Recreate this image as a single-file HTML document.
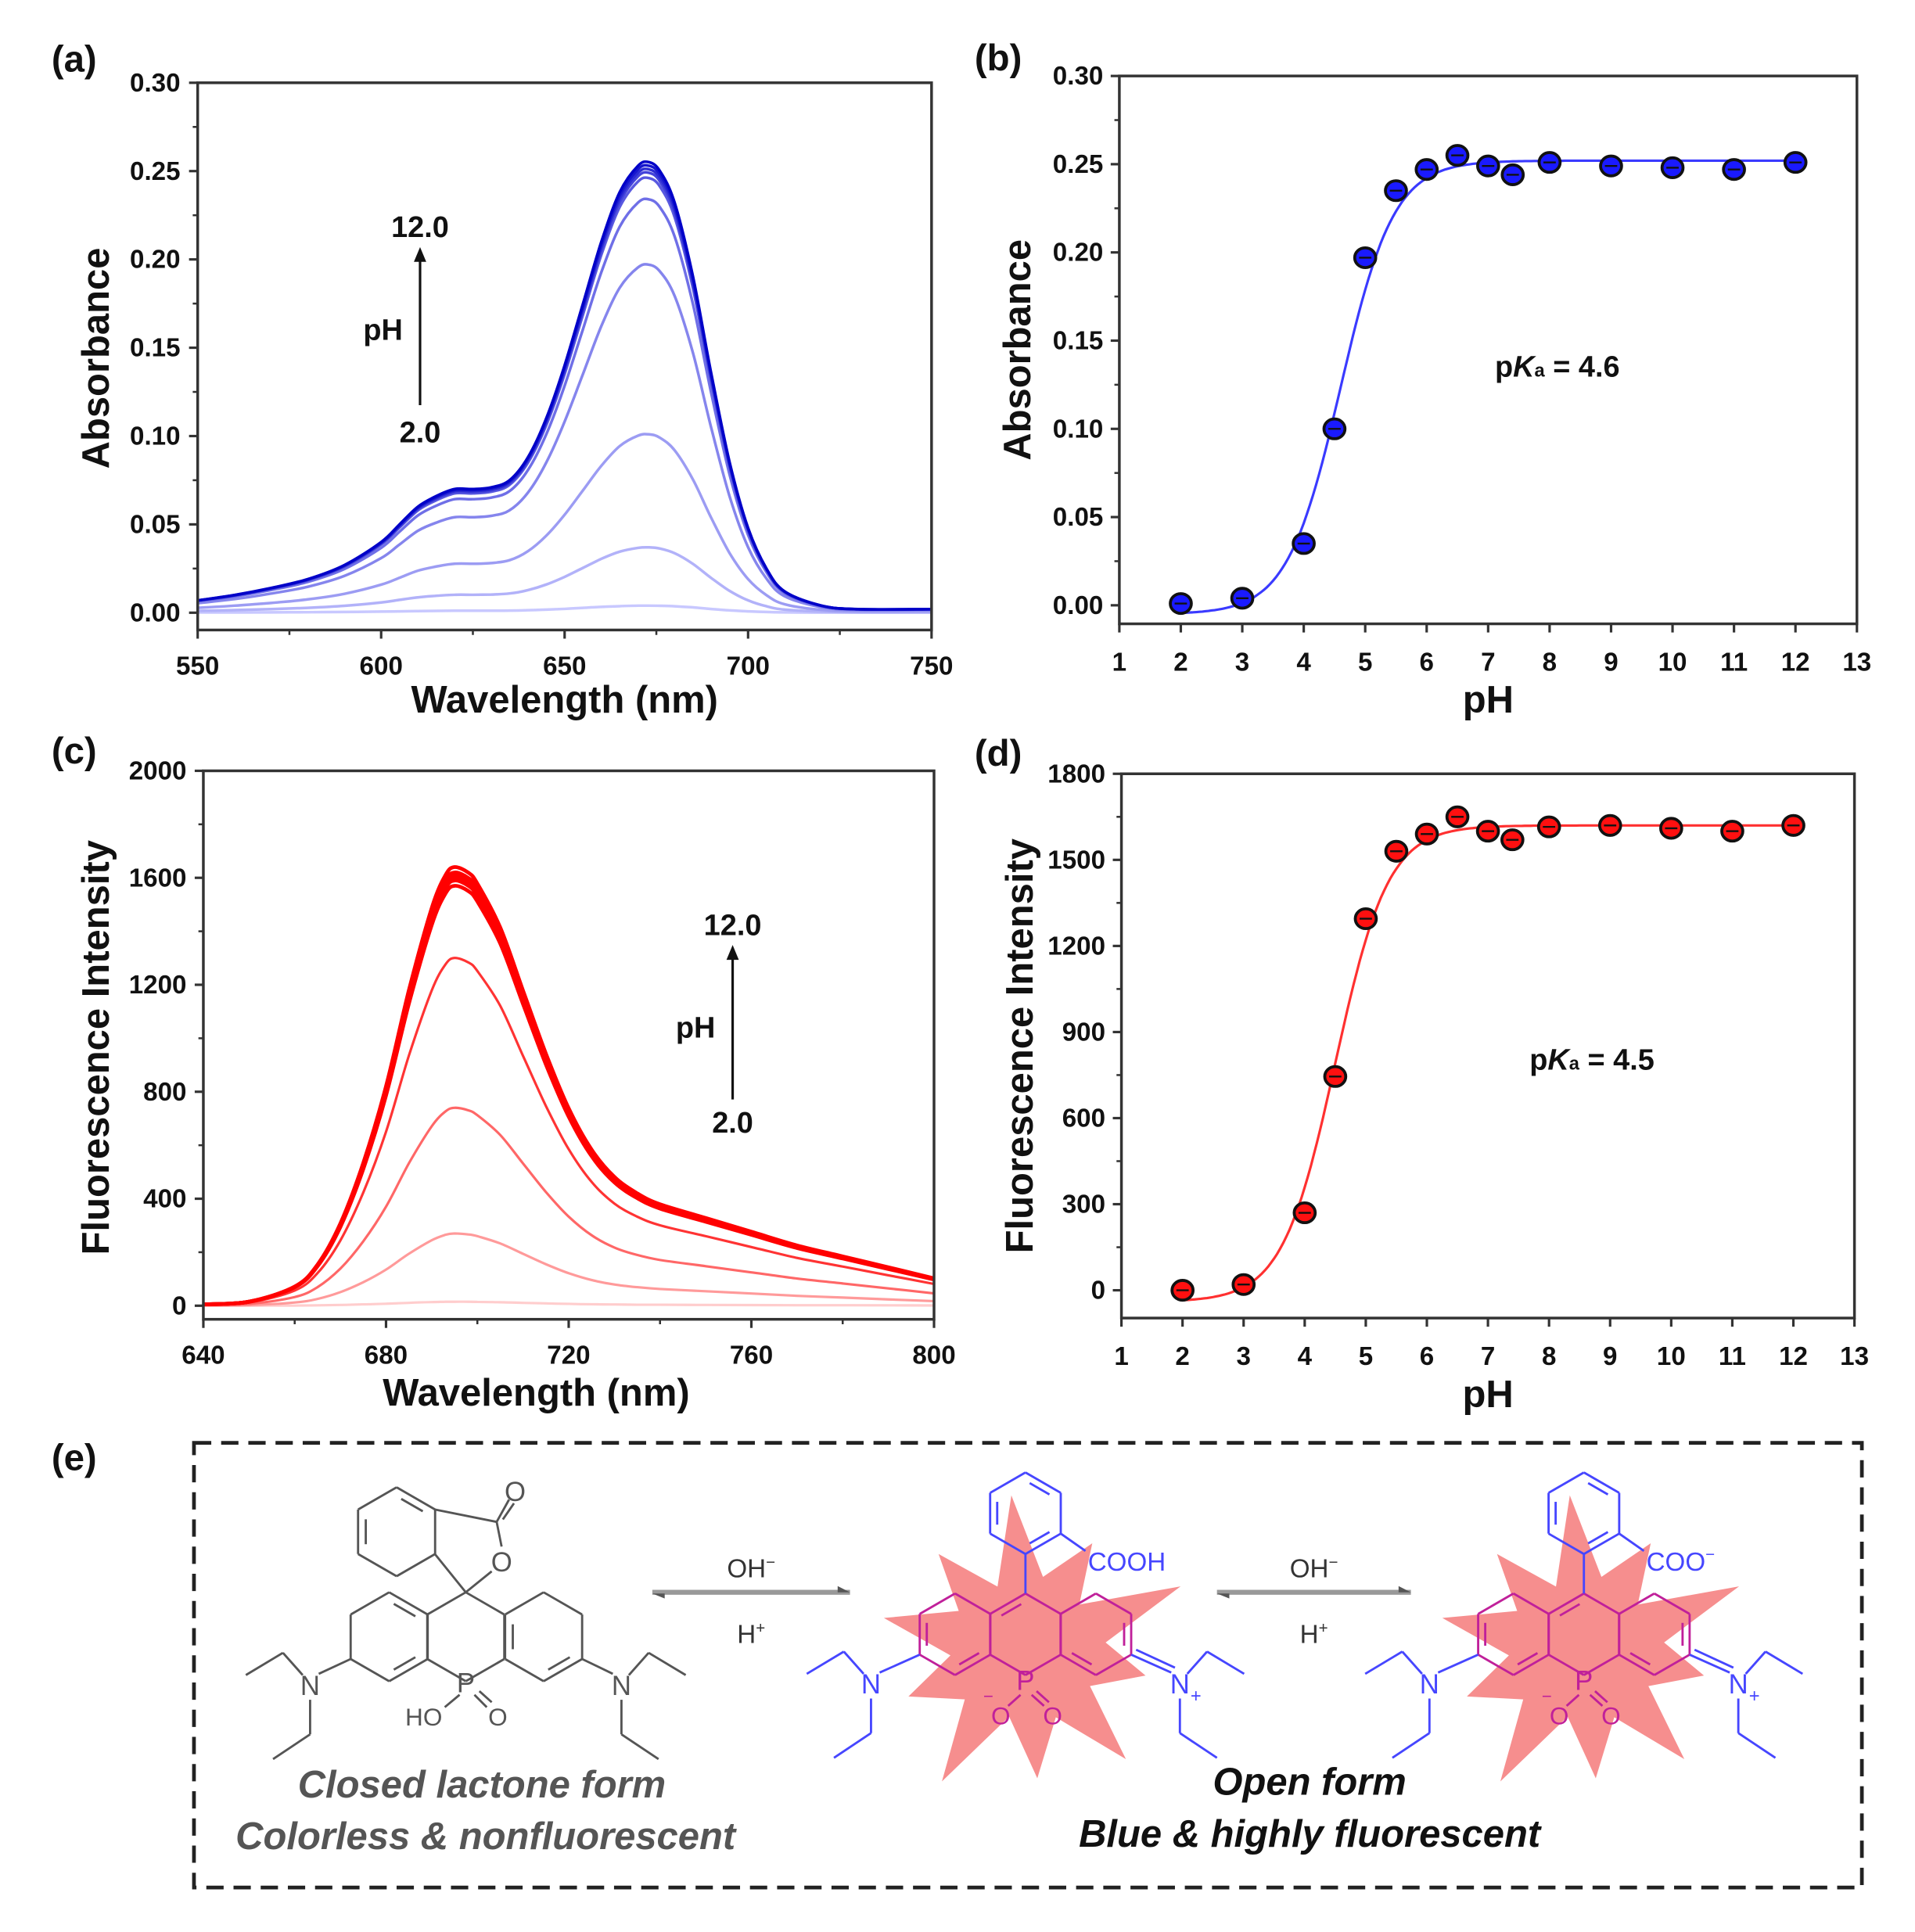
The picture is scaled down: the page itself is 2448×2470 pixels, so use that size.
<!DOCTYPE html>
<html><head><meta charset="utf-8">
<style>
html,body{margin:0;padding:0;background:#fff;}
svg{display:block;}
text{font-family:"Liberation Sans",Arial,sans-serif;}
</style></head>
<body>
<svg id="fig" xmlns="http://www.w3.org/2000/svg" width="2448" height="2470" viewBox="0 0 1550 1564" preserveAspectRatio="none">
<rect x="0" y="0" width="1550" height="1564" fill="#fff"/>
</svg>
<script>
// ---------- Panel (a) data ----------
const absWavelengths = [550,560,570,580,590,600,605,610,615,620,625,630,635,640,645,650,655,660,665,670,673,676,680,685,690,695,700,705,710,720,730,750];
const absShape = [0.007,0.010,0.014,0.019,0.027,0.040,0.050,0.060,0.066,0.070,0.070,0.071,0.075,0.088,0.110,0.140,0.175,0.210,0.238,0.253,0.255,0.250,0.232,0.190,0.135,0.085,0.048,0.025,0.012,0.004,0.002,0.002];
const absPeaks = [0.004,0.037,0.101,0.197,0.234,0.246,0.249,0.251,0.253,0.255];
const absYTicks = [0.00,0.05,0.10,0.15,0.20,0.25,0.30];
const absXTicks = [550,600,650,700,750];
// ---------- Panel (b) data ----------
const bPH = [2,3,4,4.5,5,5.5,6,6.5,7,7.4,8,9,10,11,12];
const bAbs = [0.001,0.004,0.035,0.100,0.197,0.235,0.247,0.255,0.249,0.244,0.251,0.249,0.248,0.247,0.251];
const bFit = [4.6,0.252,-0.005]; // pKa, top, bottom
const phTicks = [1,2,3,4,5,6,7,8,9,10,11,12,13];
// ---------- Panel (c) data ----------
const flWavelengths = [640,650,660,665,670,675,680,685,690,693,695,698,700,705,710,715,720,725,730,735,740,750,760,770,780,790,800];
const flShape = [5,15,70,150,300,520,800,1150,1450,1570,1600,1580,1540,1380,1150,920,720,570,470,410,370,320,270,220,180,140,100];
const flPeaks = [15,270,740,1300,1570,1590,1600,1610,1620,1640];
const flYTicks = [0,400,800,1200,1600,2000];
const flXTicks = [640,680,720,760,800];
// ---------- Panel (d) data ----------
const dPH = [2,3,4,4.5,5,5.5,6,6.5,7,7.4,8,9,10,11,12];
const dFl = [0,20,270,745,1295,1530,1590,1650,1600,1570,1615,1620,1610,1600,1620];
const dFit = [4.5,1620,-40];
const dYTicks = [0,300,600,900,1200,1500,1800];

const NS = "http://www.w3.org/2000/svg";
const svg = document.getElementById('fig');
function mk(tag, attrs, parent){const e=document.createElementNS(NS,tag);for(const k in attrs)e.setAttribute(k,attrs[k]);(parent||svg).appendChild(e);return e;}
function lin(d0,d1,r0,r1){return v=>r0+(v-d0)/(d1-d0)*(r1-r0);}
function txt(s,x,y,size,anchor,parent,extra){const t=mk('text',Object.assign({x:x,y:y,'font-size':size,'font-weight':'bold','text-anchor':anchor||'middle',fill:'#111'},extra||{}),parent);t.textContent=s;return t;}
function smooth(pts){
  let d='M'+pts[0][0].toFixed(1)+','+pts[0][1].toFixed(1);
  for(let i=0;i<pts.length-1;i++){
    const p0=pts[i-1]||pts[i],p1=pts[i],p2=pts[i+1],p3=pts[i+2]||p2;
    const c1=[p1[0]+(p2[0]-p0[0])/6,p1[1]+(p2[1]-p0[1])/6],c2=[p2[0]-(p3[0]-p1[0])/6,p2[1]-(p3[1]-p1[1])/6];
    d+='C'+c1[0].toFixed(1)+','+c1[1].toFixed(1)+' '+c2[0].toFixed(1)+','+c2[1].toFixed(1)+' '+p2[0].toFixed(1)+','+p2[1].toFixed(1);
  }
  return d;
}

function frame(g,x0,x1,y0,y1){
  const r=mk('rect',{x:x0,y:y0,width:x1-x0,height:y1-y0,fill:'none',stroke:'#333','stroke-width':2.2},g);
  
  
}
function xAxis(g,xs,ticks,minorStep,yb,labelY,fmt){
  const ax=mk('g',{},g);
  
  
  ticks.forEach((v,i)=>{
    mk('line',{x1:xs(v),x2:xs(v),y1:yb,y2:yb+7,stroke:'#333','stroke-width':2},ax);
    const t=txt(fmt?fmt(v):String(v),xs(v),labelY,21,'middle',ax);
    
    
    if(minorStep&&i<ticks.length-1){const m=v+minorStep;mk('line',{x1:xs(m),x2:xs(m),y1:yb,y2:yb+4,stroke:'#333','stroke-width':1.6},ax);}
  });
}
function yAxis(g,ys,ticks,minorStep,xl,labelX,fmt){
  const ax=mk('g',{},g);
  
  
  ticks.forEach((v,i)=>{
    mk('line',{x1:xl,x2:xl-7,y1:ys(v),y2:ys(v),stroke:'#333','stroke-width':2},ax);
    const t=txt(fmt?fmt(v):String(v),labelX,ys(v)+7,21,'end',ax);
    
    
    if(minorStep&&i<ticks.length-1){const m=v+minorStep;mk('line',{x1:xl,x2:xl-4,y1:ys(m),y2:ys(m),stroke:'#333','stroke-width':1.6},ax);}
  });
}
function mix(c0,c1,t){return 'rgb('+c0.map((v,i)=>Math.round(v+(c1[i]-v)*t)).join(',')+')';}

// ===== Panel a =====
(function(){
  const g=mk('g',{});  
  const x=lin(550,750,160,754), y=lin(0,0.30,496,67);
  const lines=mk('g',{},g);
  
  
  absPeaks.forEach((pk,k)=>{
    const s=pk/0.255;
    const d=smooth(absWavelengths.map((w,i)=>[x(w),y(absShape[i]*s)]));
    const p=mk('path',{d:d,fill:'none',stroke:mix([200,200,255],[0,0,200],k/(absPeaks.length-1)),'stroke-width':2.2,'stroke-linejoin':'round'},lines);
    
    
  });
  frame(g,160,754,67,510);
  xAxis(g,x,absXTicks,25,510,546);
  yAxis(g,y,absYTicks,0.025,160,146,v=>v.toFixed(2));
  const xt=txt('Wavelength (nm)',457,577,31,'middle',g);  
  const yt=txt('Absorbance',0,0,31,'middle',g,{transform:'translate(88,290) rotate(-90)'});  
  const pl=txt('(a)',60,58,30,'middle',g);  
  const an=mk('g',{},g);  
  txt('12.0',340,192,24,'middle',an); txt('pH',310,275,24,'middle',an); txt('2.0',340,358,24,'middle',an);
  mk('line',{x1:340,y1:328,x2:340,y2:210,stroke:'#111','stroke-width':2},an);
  mk('path',{d:'M335,212 L340,200 L345,212 Z',fill:'#111'},an);
})();

// ===== Panel b / d =====
function fitPanel(id,label,xs,ys,phs,vals,fit,yTicks,yMinor,fmt,box,fill,lineCol,ytitle,pkText,pkPos,labelPos){
  const g=mk('g',{});  
  frame(g,box[0],box[1],box[2],box[3]);
  xAxis(g,xs,phTicks,0,box[3],box[3]+38);
  yAxis(g,ys,yTicks,yMinor,box[0],box[0]-13,fmt);
  let d='';
  for(let i=0;i<=200;i++){const p=2+10*i/200;const v=fit[2]+(fit[1]-fit[2])/(1+Math.pow(10,fit[0]-p));d+=(i?'L':'M')+xs(p).toFixed(1)+','+ys(v).toFixed(1);}
  const fl=mk('path',{d:d,fill:'none',stroke:lineCol,'stroke-width':2},g);
  
  
  phs.forEach((p,i)=>{
    const c=mk('ellipse',{cx:xs(p),cy:ys(vals[i]),rx:8.5,ry:8,fill:fill,stroke:'#111','stroke-width':2.4},g);
    
    
    mk('line',{x1:xs(p)-5,x2:xs(p)+5,y1:ys(vals[i]),y2:ys(vals[i]),stroke:'#111','stroke-width':1.5},g);
  });
  const xt=txt('pH',(box[0]+box[1])/2,box[3]+72,31,'middle',g);  
  const yt=txt(ytitle,0,0,31,'middle',g,{transform:'translate('+(box[0]-72)+','+((box[2]+box[3])/2)+') rotate(-90)'});  
  const pk=mk('text',{x:pkPos[0],y:pkPos[1],'font-size':24,'font-weight':'bold',fill:'#111'},g);
  pk.innerHTML='p<tspan font-style="italic">K</tspan><tspan font-size="15">a</tspan> = '+pkText;
  
  
  const pl=txt(label,labelPos[0],labelPos[1],30,'middle',g);  
}
fitPanel('panel-b-absorbance-vs-ph','(b)',lin(1,13,906,1503),lin(0,0.30,490,61.5),bPH,bAbs,bFit,absYTicks,0.025,v=>v.toFixed(2),[906,1503,61.5,505],'#1a1aff','#3a3aff','Absorbance','4.6',[1210,305],[808,57]);

// ===== Panel c =====
(function(){
  const g=mk('g',{});  
  const x=lin(640,800,164.6,756), y=lin(0,2000,1057,624);
  const lines=mk('g',{},g);
  
  
  flPeaks.forEach((pk,k)=>{
    const s=pk/1600;
    const d=smooth(flWavelengths.map((w,i)=>[x(w),y(flShape[i]*s)]));
    const p=mk('path',{d:d,fill:'none',stroke:mix([255,205,205],[255,0,0],Math.min(1,k/4)),'stroke-width':k>3?3:2,'stroke-linejoin':'round'},lines);
    
    
  });
  frame(g,164.6,756,624,1068);
  xAxis(g,x,flXTicks,20,1068,1104);
  yAxis(g,y,flYTicks,200,164.6,151);
  const xt=txt('Wavelength (nm)',434,1138,31,'middle',g);  
  const yt=txt('Fluorescence Intensity',0,0,31,'middle',g,{transform:'translate(88,848) rotate(-90)'});  
  const pl=txt('(c)',60,618,30,'middle',g);  
  const an=mk('g',{},g);  
  txt('12.0',593,757,24,'middle',an); txt('pH',563,840,24,'middle',an); txt('2.0',593,917,24,'middle',an);
  mk('line',{x1:593,y1:890,x2:593,y2:775,stroke:'#111','stroke-width':2},an);
  mk('path',{d:'M588,777 L593,765 L598,777 Z',fill:'#111'},an);
})();

// ===== Panel d =====
fitPanel('panel-d-fluorescence-vs-ph','(d)',lin(1,13,907.7,1501),lin(0,1800,1044.5,626.4),dPH,dFl,dFit,dYTicks,150,null,[907.7,1501,626.4,1067],'#ff1010','#ff3030','Fluorescence Intensity','4.5',[1238,866],[808,620]);

// ===== Panel e : scheme =====
(function(){
  const g=mk('g',{});  
  const pl=txt('(e)',60,1190,30,'middle',g);  
  const box=mk('rect',{x:157,y:1168,width:1350,height:360,fill:'none',stroke:'#222','stroke-width':3,'stroke-dasharray':'14,8'},g);
   

  function L(p,a,b,col,w){mk('line',{x1:a[0],y1:a[1],x2:b[0],y2:b[1],stroke:col,'stroke-width':w||1.8},p);}
  function hexPts(cx,cy,r){const v=[];for(let k=0;k<6;k++){const a=(-90+60*k)*Math.PI/180;v.push([cx+r*Math.cos(a),cy+r*Math.sin(a)]);}return v;}
  function ring(p,cx,cy,r,col,dbl){const v=hexPts(cx,cy,r);for(let k=0;k<6;k++)L(p,v[k],v[(k+1)%6],col);
    (dbl||[]).forEach(k=>{const a=v[k],b=v[(k+1)%6];const s=0.2;const ia=[a[0]+(cx-a[0])*s,a[1]+(cy-a[1])*s],ib=[b[0]+(cx-b[0])*s,b[1]+(cy-b[1])*s];
      L(p,[ia[0]+(ib[0]-ia[0])*0.15,ia[1]+(ib[1]-ia[1])*0.15],[ia[0]+(ib[0]-ia[0])*0.85,ia[1]+(ib[1]-ia[1])*0.85],col);});return v;}
  function atom(p,s,x,y,col,size){const t=mk('text',{x:x,y:y,'font-size':size||20,'text-anchor':'middle',fill:col},p);t.textContent=s;return t;}
  function diethylN(p,N,col,side){ // side -1 left, +1 right
    atom(p,'N',N[0],N[1]+8,col,22);
    L(p,[N[0]+side*6,N[1]-8],[N[0]+side*22,N[1]-26],col);L(p,[N[0]+side*22,N[1]-26],[N[0]+side*52,N[1]-8],col);
    L(p,[N[0],N[1]+12],[N[0],N[1]+40],col);L(p,[N[0],N[1]+40],[N[0]+side*30,N[1]+60],col);
  }
  function star(p,cx,cy){
    const radii=[125,60,100,55,130,62,95,58,118,60,105,56,125,62,98,58,112,60,102,55];
    const pts=radii.map((r,i)=>{const a=(-95+i*18)*Math.PI/180;return (cx+r*1.05*Math.cos(a)).toFixed(1)+','+(cy+r*Math.sin(a)).toFixed(1);}).join(' ');
    const s=mk('polygon',{points:pts,fill:'#f47a7a','fill-opacity':0.85},p);
     
  }

  // closed lactone form
  const m1=mk('g',{},g);  
  const gray='#555', r=36, cy=1325;
  const lv=ring(m1,315,cy,r,gray,[0,2]); ring(m1,377,cy,r,gray,[]); const rv=ring(m1,440,cy,r,gray,[4,2]);
  diethylN(m1,[251,1364],gray,-1); L(m1,lv[4],[258,1355],gray);
  diethylN(m1,[503,1364],gray,1); L(m1,rv[2],[496,1355],gray);
  atom(m1,'P',377,1370,gray,22); atom(m1,'HO',343,1397,gray,20); atom(m1,'O',403,1397,gray,20);
  L(m1,[372,1372],[360,1382],gray); L(m1,[384,1372],[394,1382],gray); L(m1,[388,1369],[398,1378],gray);
  ring(m1,321,1240,36,gray,[4,0]);
  L(m1,[377,1289],[352,1258],gray); L(m1,[377,1289],[398,1272],gray); L(m1,[406,1252],[402,1232],gray); L(m1,[402,1232],[352,1222],gray);
  L(m1,[402,1232],[412,1214],gray); L(m1,[407,1230],[416,1217],gray);
  atom(m1,'O',406,1272,gray,22); atom(m1,'O',417,1215,gray,22);
  const ct1=mk('text',{x:390,y:1455,'font-size':31,'font-weight':'bold','font-style':'italic','text-anchor':'middle',fill:'#555'},g); ct1.textContent='Closed lactone form';
   
  const ct2=mk('text',{x:393,y:1497,'font-size':31,'font-weight':'bold','font-style':'italic','text-anchor':'middle',fill:'#555'},g); ct2.textContent='Colorless & nonfluorescent';
   

  function eq(x0,x1){
    const a=mk('g',{},g);  
    mk('rect',{x:x0,y:1287,width:x1-x0,height:4,fill:'#999'},a);
    mk('path',{d:'M'+(x1-10)+',1284 L'+x1+',1289 L'+(x1-10)+',1289Z',fill:'#555'},a);
    mk('path',{d:'M'+(x0+10)+',1294 L'+x0+',1290 L'+(x0+10)+',1290Z',fill:'#555'},a);
    const o=mk('text',{x:(x0+x1)/2,y:1277,'font-size':21,'text-anchor':'middle',fill:'#333'},a); o.innerHTML='OH<tspan dy="-8" font-size="13">−</tspan>';
    const h=mk('text',{x:(x0+x1)/2,y:1330,'font-size':21,'text-anchor':'middle',fill:'#333'},a); h.innerHTML='H<tspan dy="-8" font-size="13">+</tspan>';
  }
  eq(528,688); eq(985,1142);

  function openForm(cx,label,name){
    const m=mk('g',{},g);  
    star(m,cx,1335);
    const mag='#c0209a', blu='#4646ff', rr=33, oy=1323;
    const a=ring(m,cx-57,oy,rr,mag,[2,4]); ring(m,cx,oy,rr,mag,[5]); const b=ring(m,cx+57,oy,rr,mag,[1,3]);
    L(m,[cx,oy-rr],[cx,oy-rr-32],blu);
    const ph=ring(m,cx,oy-rr-32-33,33,blu,[0,2,4]);
    L(m,ph[2],[ph[2][0]+20,ph[2][1]+14],blu);
    const t=mk('text',{x:ph[2][0]+22,y:ph[2][1]+30,'font-size':21,fill:blu},m); t.innerHTML=label;
    diethylN(m,[cx-125,1363],blu,-1); L(m,a[4],[cx-118,1354],blu);
    diethylN(m,[cx+125,1363],blu,1); L(m,b[2],[cx+118,1354],blu); L(m,[b[2][0]+4,b[2][1]-4],[cx+121,1350],blu);
    atom(m,'+',cx+138,1378,blu,15);
    atom(m,'P',cx,1368,mag,22); atom(m,'O',cx-20,1396,mag,20); atom(m,'O',cx+22,1396,mag,20); atom(m,'−',cx-30,1378,mag,14);
    L(m,[cx-4,1372],[cx-14,1381],mag); L(m,[cx+5,1372],[cx+15,1381],mag); L(m,[cx+9,1369],[cx+19,1378],mag);
  }
  openForm(830,'COOH','open-form-structure-acid');
  openForm(1282,'COO<tspan dy="-9" font-size="13">−</tspan>','open-form-structure-carboxylate');
  const o1=mk('text',{x:1060,y:1453,'font-size':31,'font-weight':'bold','font-style':'italic','text-anchor':'middle',fill:'#111'},g); o1.textContent='Open form';
   
  const o2=mk('text',{x:1060,y:1495,'font-size':31,'font-weight':'bold','font-style':'italic','text-anchor':'middle',fill:'#111'},g); o2.textContent='Blue & highly fluorescent';
   
})();
</script>
</body></html>
